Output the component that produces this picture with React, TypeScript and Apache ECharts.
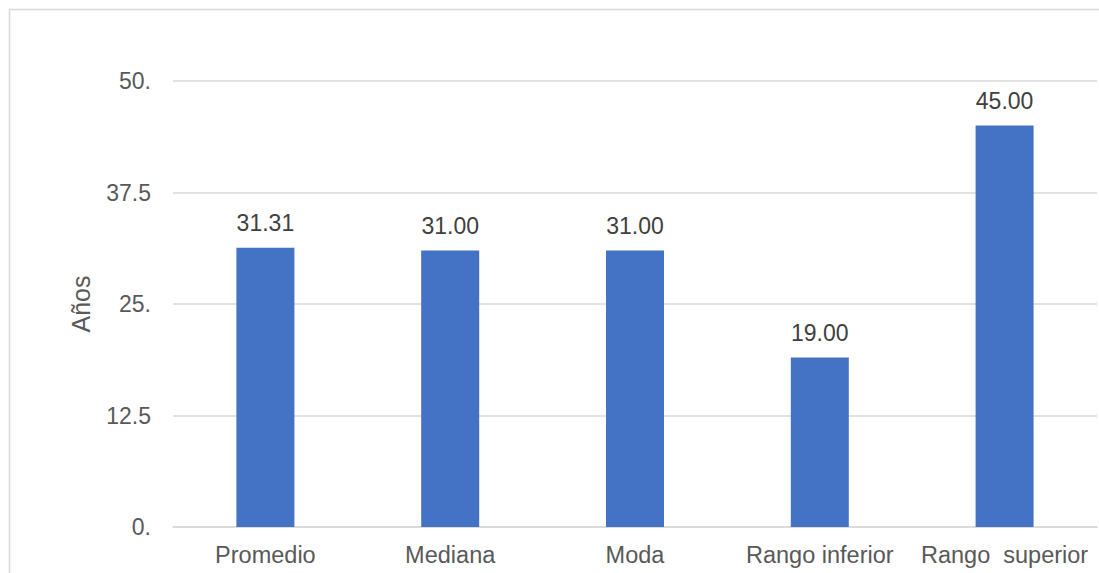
import React, { useEffect, useRef } from "react";
import * as echarts from "echarts";

const categories = ["Promedio", "Mediana", "Moda", "Rango inferior", "Rango  superior"];
const values = [31.31, 31.0, 31.0, 19.0, 45.0];
const tickLabels: Record<string, string> = { "0": "0.", "12.5": "12.5", "25": "25.", "37.5": "37.5", "50": "50." };

export default function App() {
  const ref = useRef<HTMLDivElement>(null);
  useEffect(() => {
    const chart = echarts.init(ref.current!, null, { renderer: "svg" });
    chart.setOption({
      animation: false,
      textStyle: { fontFamily: "Liberation Sans, Arial, sans-serif" },
      graphic: [
        {
          type: "rect",
          shape: { x: 9.5, y: 9.5, width: 1100, height: 600 },
          style: { fill: "none", stroke: "#d9d9d9", lineWidth: 1.5 },
          silent: true,
        },
      ],
      grid: { left: 173, right: 2, top: 81, bottom: 46 },
      xAxis: {
        type: "category",
        data: categories,
        axisTick: { show: false },
        axisLine: { lineStyle: { color: "#d9d9d9", width: 1.5 } },
        axisLabel: { color: "#595959", fontSize: 23.5, margin: 16, interval: 0 },
      },
      yAxis: {
        type: "value",
        min: 0,
        max: 50,
        interval: 12.5,
        name: "Años",
        nameLocation: "middle",
        nameGap: 80,
        nameRotate: 90,
        nameTextStyle: { color: "#595959", fontSize: 25 },
        axisLine: { show: false },
        axisTick: { show: false },
        splitLine: { lineStyle: { color: "#d9d9d9", width: 1.5 } },
        axisLabel: {
          color: "#595959",
          fontSize: 23,
          margin: 22,
          formatter: (v: number) => tickLabels[String(v)] ?? String(v),
        },
      },
      series: [
        {
          type: "bar",
          data: values,
          barWidth: 58,
          itemStyle: { color: "#4472C4" },
          label: {
            show: true,
            position: "top",
            distance: 13,
            color: "#404040",
            fontSize: 23,
            formatter: (p: any) => Number(p.value).toFixed(2),
          },
        },
      ],
    });
    return () => chart.dispose();
  }, []);
  return <div ref={ref} style={{ position: "fixed", left: 0, top: 0, width: 1099, height: 573, background: "#fff" }} />;
}
